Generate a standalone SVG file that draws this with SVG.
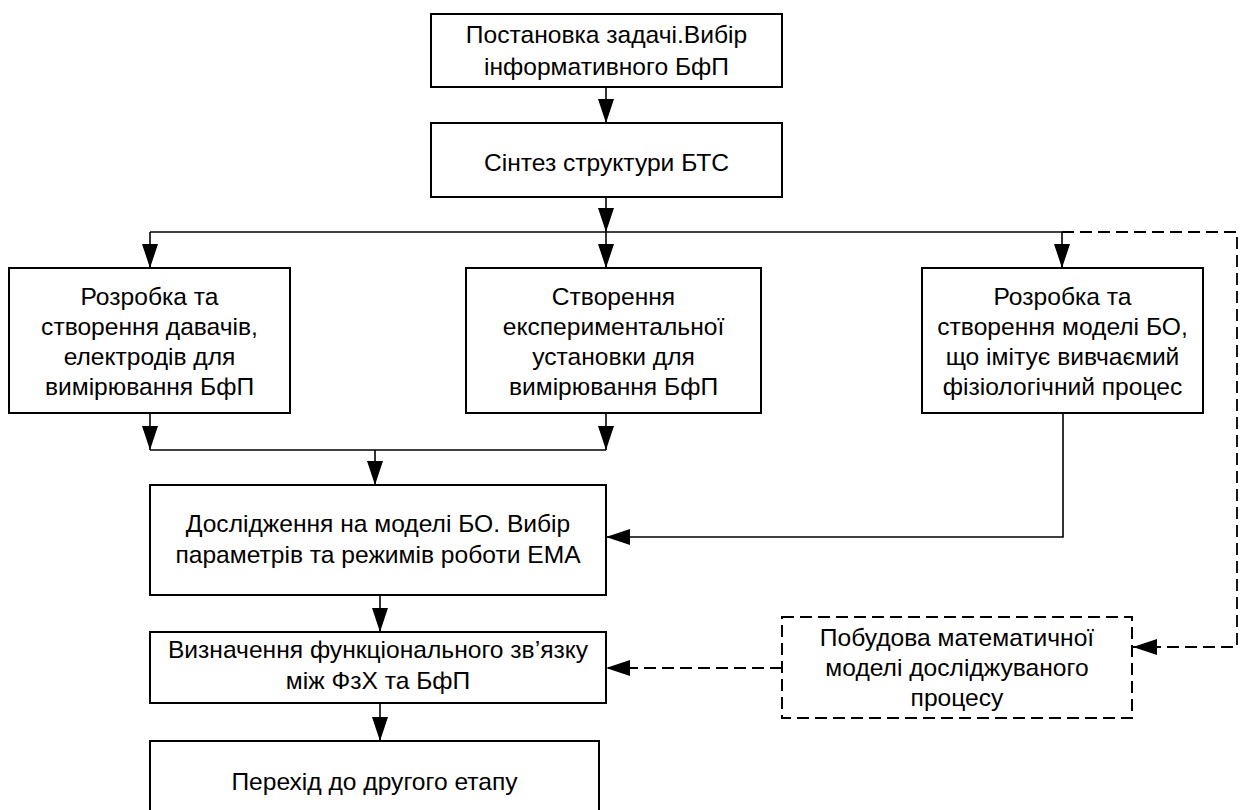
<svg xmlns="http://www.w3.org/2000/svg" width="1241" height="810" viewBox="0 0 1241 810">
<defs>
<style>
.box{fill:#fff;stroke:#000;stroke-width:2}
.dbox{fill:#fff;stroke:#000;stroke-width:2;stroke-dasharray:12 6}
.ln{fill:none;stroke:#000;stroke-width:1.6}
.dl{fill:none;stroke:#000;stroke-width:1.8;stroke-dasharray:12 6}
text{font-family:"Liberation Sans",Arial,sans-serif;font-size:24.6px;fill:#000;text-anchor:middle}
</style>
<marker id="ah" markerUnits="userSpaceOnUse" markerWidth="26" markerHeight="18" refX="24" refY="8" orient="auto">
<path d="M0,0 L24,8 L0,16 z" fill="#000"/>
</marker>
</defs>
<rect width="1241" height="810" fill="#fff"/>
<g id="connectors">
<path class="ln" d="M606,87 V123" marker-end="url(#ah)"/>
<path class="ln" d="M606,197 V232" marker-end="url(#ah)"/>
<path class="ln" d="M150,232 H1062"/>
<path class="ln" d="M150,232 V268" marker-end="url(#ah)"/>
<path class="ln" d="M606,232 V268" marker-end="url(#ah)"/>
<path class="ln" d="M1062,232 V268" marker-end="url(#ah)"/>
<path class="dl" d="M1062,232 H1237 V647 H1133" marker-end="url(#ah)"/>
<path class="ln" d="M150,413 V450" marker-end="url(#ah)"/>
<path class="ln" d="M606,413 V450" marker-end="url(#ah)"/>
<path class="ln" d="M150,450 H606"/>
<path class="ln" d="M375,450 V485" marker-end="url(#ah)"/>
<path class="ln" d="M1063,413 V537 H606" marker-end="url(#ah)"/>
<path class="ln" d="M380,595 V632" marker-end="url(#ah)"/>
<path class="dl" d="M782,668 H606" marker-end="url(#ah)"/>
<path class="ln" d="M380,703 V741" marker-end="url(#ah)"/>
</g>
<g id="n1"><rect class="box" x="431" y="14" width="351" height="73"/>
<text x="606.5" y="43">Постановка задачі.Вибір</text><text x="606.5" y="75">інформативного БфП</text></g>
<g id="n2"><rect class="box" x="431" y="123" width="351" height="74"/>
<text x="606.5" y="171">Сінтез структури БТС</text></g>
<g id="n3"><rect class="box" x="9" y="268" width="281" height="145"/>
<text x="149.5" y="305">Розробка та</text><text x="149.5" y="335">створення давачів,</text><text x="149.5" y="365">електродів для</text><text x="149.5" y="395">вимірювання БфП</text></g>
<g id="n4"><rect class="box" x="466" y="268" width="295" height="145"/>
<text x="613.5" y="305">Створення</text><text x="613.5" y="335">експериментальної</text><text x="613.5" y="365">установки для</text><text x="613.5" y="395">вимірювання БфП</text></g>
<g id="n5"><rect class="box" x="922" y="268" width="281" height="145"/>
<text x="1062.5" y="305">Розробка та</text><text x="1062.5" y="335">створення моделі БО,</text><text x="1062.5" y="365">що імітує вивчаємий</text><text x="1062.5" y="395">фізіологічний процес</text></g>
<g id="n6"><rect class="box" x="150" y="485" width="456" height="110"/>
<text x="378" y="532">Дослідження на моделі БО. Вибір</text><text x="378" y="563">параметрів та режимів роботи ЕМА</text></g>
<g id="n7"><rect class="box" x="150" y="632" width="456" height="71"/>
<text x="378" y="658">Визначення функціонального зв’язку</text><text x="378" y="689">між ФзХ та БфП</text></g>
<g id="n8"><rect class="box" x="150" y="741" width="449" height="80"/>
<text x="374.5" y="790">Перехід до другого етапу</text></g>
<g id="n9"><rect class="dbox" x="782" y="617" width="350" height="101"/>
<text x="957" y="646">Побудова математичної</text><text x="957" y="676">моделі досліджуваного</text><text x="957" y="706">процесу</text></g>
</svg>
